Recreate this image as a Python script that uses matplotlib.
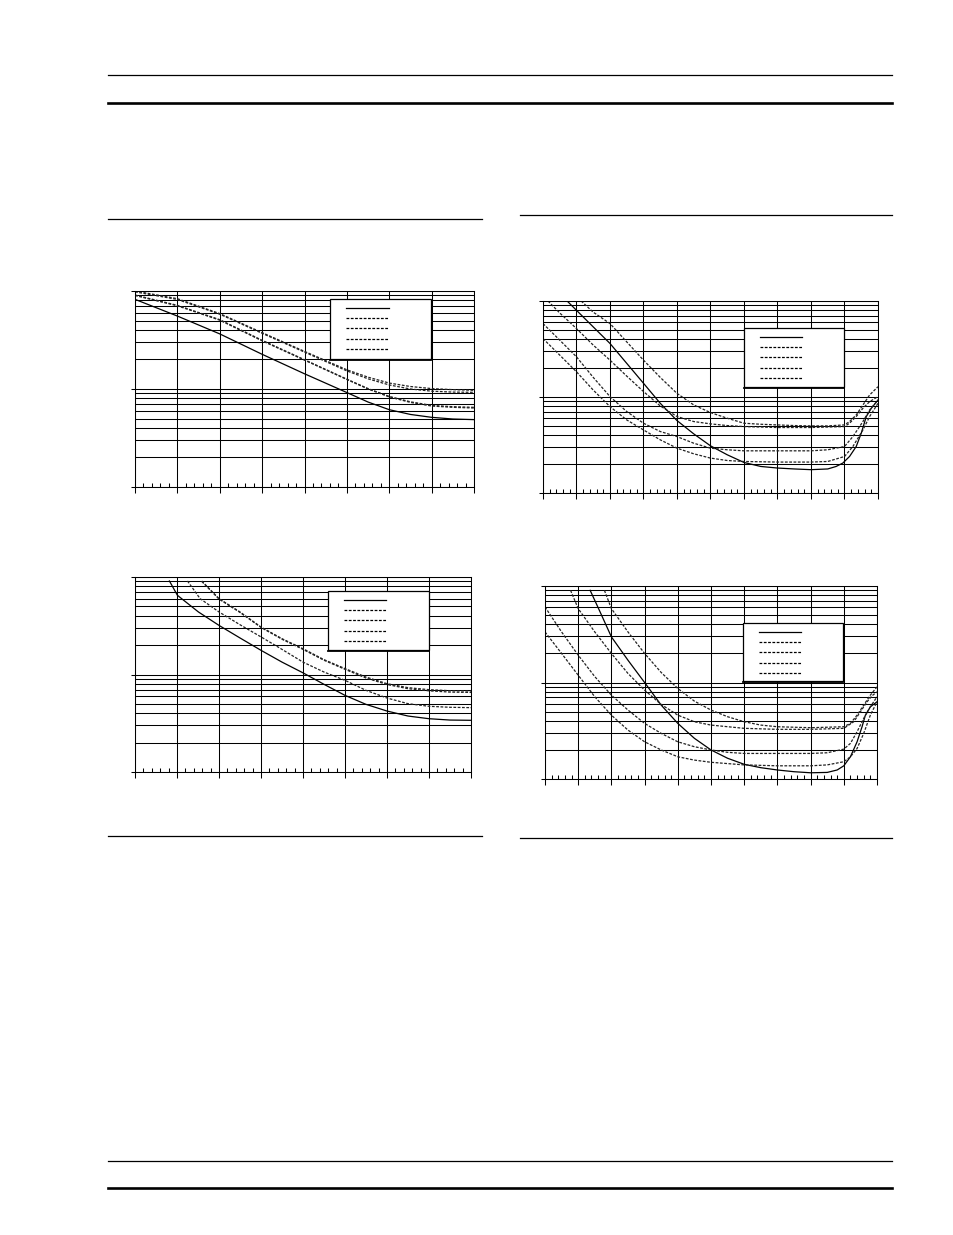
import matplotlib
matplotlib.use('Agg')
import matplotlib.pyplot as plt
from matplotlib.ticker import MultipleLocator, LogLocator, NullFormatter
from matplotlib.lines import Line2D
from matplotlib.patches import Rectangle

plt.rcParams['lines.scale_dashes'] = False

W, H = 954, 1235

# ---- chart 1 (top left), x 0..8, log y 1..100
c1_x = [0, 1, 2, 3, 4, 5, 5.5, 6, 6.5, 7, 7.5, 8]
c1_solid = [82.2, 55.5, 36.5, 22.6, 14.3, 9.2, 7.36, 6.15, 5.5, 5.14, 4.94, 4.87]
c1_mid = [91.0, 71.4, 51.0, 31.4, 19.9, 12.6, 10.1, 8.4, 7.4, 6.8, 6.6, 6.5]
c1_mid2 = [90.0, 70.6, 50.4, 31.0, 19.7, 12.5, 10.0, 8.3, 7.3, 6.7, 6.5, 6.4]
c1_top = [100, 83.5, 58.8, 37.6, 24.2, 15.7, 13.2, 11.5, 10.6, 10.1, 9.85, 9.7]
c1_top2 = [98, 82, 58, 37, 23.8, 15.3, 12.7, 11.0, 10.0, 9.5, 9.3, 9.25]

# ---- chart 2 (top right), x 0..10
c2_solid_x = [0.72, 1.35, 2, 2.5, 3, 3.5, 4, 4.5, 5, 5.5, 6, 6.5, 7, 7.5, 8, 8.5,
              8.75, 8.95, 9.15, 9.35, 9.5, 9.65, 9.8, 10]
c2_solid = [100, 60.5, 36.1, 22.4, 13.9, 8.6, 5.68, 4.13, 3.10, 2.50, 2.08, 1.89, 1.82,
            1.78, 1.75, 1.78, 1.89, 2.05, 2.40, 3.05, 4.20, 6.25, 7.63, 9.3]
c2_a_x = [1.14, 1.49, 2, 2.5, 3, 3.5, 4, 4.5, 5, 5.5, 6, 6.5, 7, 7.5, 8, 8.5, 9,
          9.15, 9.35, 9.55, 9.75, 10]
c2_a = [100, 76.9, 58.2, 37.5, 24.2, 16.0, 10.9, 8.26, 6.88, 6.01, 5.33, 5.20, 5.12,
        5.04, 5.0, 5.0, 5.12, 5.55, 6.5, 8.26, 10.5, 12.8]
c2_b_x = [0.15, 0.5, 1, 1.5, 2, 2.5, 3, 3.5, 4, 4.5, 5, 5.5, 6, 7, 8, 9, 9.15, 9.35,
          9.55, 9.75, 10]
c2_b = [100, 75.0, 51.6, 34.7, 24.2, 16.5, 11.4, 8.07, 6.26, 5.55, 5.25, 5.04, 4.92,
        4.81, 4.81, 4.92, 5.33, 6.26, 7.63, 8.95, 10.1]
c2_c_x = [0, 0.5, 1, 1.5, 2, 2.5, 3, 3.5, 4, 4.5, 5, 5.5, 6, 7, 8, 8.5, 9, 9.25,
          9.55, 9.75, 10]
c2_c = [58.2, 39.1, 26.2, 16.0, 10.1, 7.05, 5.33, 4.37, 3.87, 3.30, 2.93, 2.82, 2.75,
        2.75, 2.75, 2.82, 3.05, 3.87, 5.55, 7.33, 9.3]
c2_d_x = [0, 0.5, 1, 1.5, 2, 2.5, 3, 3.5, 4, 4.5, 5, 5.5, 6, 7, 8, 8.5, 9, 9.25,
          9.55, 9.75, 10]
c2_d = [40.6, 27.3, 18.3, 11.8, 7.94, 5.77, 4.54, 3.58, 2.93, 2.56, 2.31, 2.18, 2.13,
        2.10, 2.10, 2.13, 2.40, 3.05, 4.54, 6.26, 8.59]

# ---- chart 3 (bottom left), x 0..8
c3_solid_x = [0.82, 1.01, 1.51, 2, 2.5, 3, 3.5, 4, 4.5, 5, 5.5, 6, 6.5, 7, 7.5, 8]
c3_solid = [91.0, 64.9, 43.8, 31.9, 23.7, 17.7, 13.4, 10.4, 7.93, 6.11, 4.94, 4.22,
            3.75, 3.52, 3.41, 3.39]
c3_mid_x = [1.25, 1.55, 2, 2.5, 3, 3.5, 4, 4.5, 5, 5.5, 6, 6.5, 7, 7.5, 8]
c3_mid = [91.0, 60.0, 43.8, 32.4, 24.3, 18.1, 13.4, 10.6, 8.71, 6.88, 5.74, 5.02,
          4.72, 4.61, 4.57]
c3_top_x = [1.59, 2, 2.5, 3, 3.5, 4, 4.5, 5, 5.5, 6, 6.5, 7, 7.5, 8]
c3_top = [91.0, 60.0, 43.8, 30.7, 23.3, 18.4, 14.2, 11.5, 9.42, 8.05, 7.33, 6.99,
          6.82, 6.77]
c3_top2 = [90.0, 59.4, 43.3, 30.4, 23.0, 18.1, 14.0, 11.3, 9.2, 7.9, 7.15, 6.8,
           6.6, 6.55]

# ---- chart 4 (bottom right), x 0..10
c4_solid_x = [1.36, 1.66, 2, 2.5, 3, 3.5, 4, 4.5, 5, 5.5, 6, 6.5, 7, 7.5, 8, 8.5,
              8.8, 9, 9.2, 9.4, 9.55, 9.65, 9.8, 10]
c4_solid = [90.2, 53.8, 29.7, 17.0, 10.0, 5.83, 3.77, 2.64, 2.00, 1.64, 1.42, 1.31,
            1.24, 1.19, 1.16, 1.17, 1.24, 1.37, 1.70, 2.43, 3.48, 4.59, 5.60, 6.31]
c4_a_x = [1.79, 2, 2.5, 3, 3.5, 4, 4.5, 5, 5.5, 6, 6.5, 7, 8, 9, 9.2, 9.4, 9.6,
          9.8, 10]
c4_a = [90.2, 58.3, 33.4, 20.0, 12.7, 8.67, 6.41, 5.18, 4.42, 3.92, 3.62, 3.48, 3.40,
        3.48, 3.77, 4.59, 5.83, 7.40, 9.01]
c4_b_x = [0.77, 1, 1.5, 2, 2.5, 3, 3.5, 4, 4.5, 5, 6, 7, 8, 9, 9.3, 9.5, 9.7, 9.85, 10]
c4_b = [90.2, 58.3, 33.4, 20.0, 12.4, 8.34, 5.92, 4.59, 3.92, 3.62, 3.35, 3.27, 3.27,
        3.35, 3.92, 4.97, 6.31, 7.28, 8.0]
c4_c_x = [0, 0.5, 1, 1.5, 2, 2.5, 3, 3.5, 4, 4.5, 5, 5.5, 6, 7, 8, 8.5, 9, 9.2,
          9.4, 9.6, 9.8, 10]
c4_c = [60.7, 33.4, 19.2, 11.5, 7.40, 5.18, 3.77, 2.97, 2.43, 2.16, 2.00, 1.89, 1.84,
        1.84, 1.84, 1.87, 2.04, 2.34, 3.09, 4.25, 5.60, 7.11]
c4_d_x = [0, 0.5, 1, 1.5, 2, 2.5, 3, 3.5, 4, 4.5, 5, 6, 7, 8, 8.5, 9, 9.2, 9.4,
          9.6, 9.8, 10]
c4_d = [33.4, 20.0, 11.9, 7.11, 4.59, 3.21, 2.43, 2.00, 1.70, 1.57, 1.49, 1.40, 1.37,
        1.37, 1.40, 1.51, 1.70, 2.07, 2.97, 4.59, 6.31]


def px_rect(l, t, r, b):
    return [l / W, 1 - b / H, (r - l) / W, (b - t) / H]


def setup(ax, xmax):
    ax.set_yscale('log')
    ax.set_ylim(1, 100)
    ax.set_xlim(0, xmax)
    ax.xaxis.set_major_locator(MultipleLocator(1))
    ax.xaxis.set_minor_locator(MultipleLocator(0.2))
    ax.yaxis.set_major_locator(LogLocator(base=10, numticks=5))
    ax.yaxis.set_minor_locator(LogLocator(base=10, subs=range(2, 10), numticks=20))
    for a in (ax.xaxis, ax.yaxis):
        a.set_major_formatter(NullFormatter())
        a.set_minor_formatter(NullFormatter())
    ax.tick_params(axis='x', which='major', direction='out', length=4.5, width=0.75)
    ax.tick_params(axis='x', which='minor', direction='in', length=3, width=0.75)
    ax.tick_params(axis='y', which='major', direction='out', length=3, width=0.75)
    ax.tick_params(axis='y', which='minor', length=0)
    ax.grid(axis='x', which='major', color='black', lw=0.75)
    ax.grid(axis='y', which='both', color='black', lw=0.75)
    for s in ax.spines.values():
        s.set_linewidth(0.75)


def curve(ax, x, y, solid=False):
    if solid:
        ax.plot(x, y, color='black', lw=0.9)
    else:
        ax.plot(x, y, color='#222222', lw=0.9, dashes=(2, 1.1))


def key_box(fig, l, t, r, b):
    # white key box with a slightly heavier lower edge, entries have no text
    fig.add_artist(Rectangle((l / W, 1 - b / H), (r - l) / W, (b - t) / H,
                             transform=fig.transFigure, facecolor='white',
                             edgecolor='black', lw=0.9, zorder=5))
    fig.add_artist(Line2D([l / W, r / W], [1 - (b + 0.5) / H] * 2,
                          transform=fig.transFigure, color='black', lw=1.3, zorder=6))
    for i in range(5):
        y = 1 - (t + 9 + i * 10.2) / H
        style = {} if i == 0 else {'dashes': (2, 1.1)}
        fig.add_artist(Line2D([(l + 16) / W, (l + 58.5) / W], [y, y],
                              transform=fig.transFigure, color='black', lw=0.9,
                              zorder=6, **style))


fig = plt.figure(figsize=(W / 100, H / 100), dpi=100)

# page rules
for y, lw in [(75, 0.9), (103, 1.9), (1161, 0.9), (1188, 1.9)]:
    fig.add_artist(Line2D([108 / W, 892 / W], [1 - y / H] * 2, color='black', lw=lw))
for x0, x1, y in [(108, 482, 219), (520, 892, 215), (108, 482, 836), (520, 892, 838)]:
    fig.add_artist(Line2D([x0 / W, x1 / W], [1 - y / H] * 2, color='black', lw=0.9))

ax1 = fig.add_axes(px_rect(135, 291, 474, 487))
setup(ax1, 8)
curve(ax1, c1_x, c1_solid, solid=True)
curve(ax1, c1_x, c1_mid)
curve(ax1, c1_x, c1_mid2)
curve(ax1, c1_x, c1_top)
curve(ax1, c1_x, c1_top2)
key_box(fig, 330, 299, 431, 359)

ax2 = fig.add_axes(px_rect(543, 301, 878, 493))
setup(ax2, 10)
curve(ax2, c2_solid_x, c2_solid, solid=True)
curve(ax2, c2_a_x, c2_a)
curve(ax2, c2_b_x, c2_b)
curve(ax2, c2_c_x, c2_c)
curve(ax2, c2_d_x, c2_d)
key_box(fig, 744, 328, 844, 387)

ax3 = fig.add_axes(px_rect(135, 577, 471, 772))
setup(ax3, 8)
curve(ax3, c3_solid_x, c3_solid, solid=True)
curve(ax3, c3_mid_x, c3_mid)
curve(ax3, c3_top_x, c3_top)
curve(ax3, c3_top_x, c3_top2)
key_box(fig, 328, 591, 429, 650)

ax4 = fig.add_axes(px_rect(545, 586, 877, 779))
setup(ax4, 10)
curve(ax4, c4_solid_x, c4_solid, solid=True)
curve(ax4, c4_a_x, c4_a)
curve(ax4, c4_b_x, c4_b)
curve(ax4, c4_c_x, c4_c)
curve(ax4, c4_d_x, c4_d)
key_box(fig, 743, 623, 843, 681)

fig.savefig('out.png', dpi=100)
